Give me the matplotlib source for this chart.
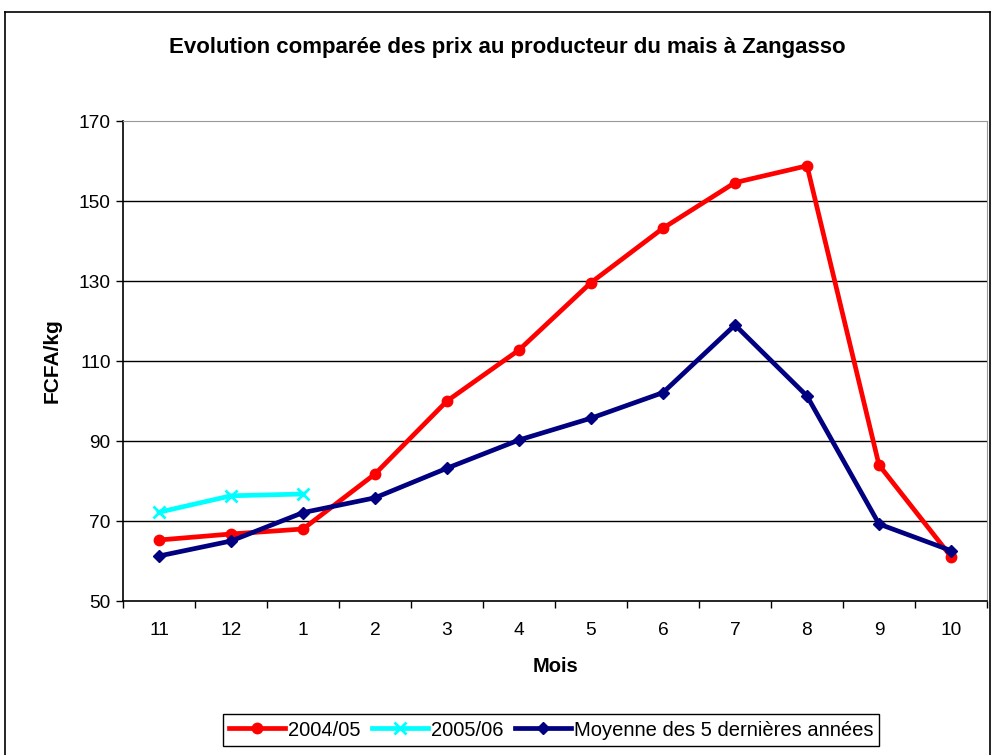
import matplotlib
matplotlib.use("Agg")
import matplotlib.pyplot as plt
from matplotlib.lines import Line2D

plt.rcParams['font.family'] = ['Liberation Sans', 'DejaVu Sans']

# data
mois = ["11", "12", "1", "2", "3", "4", "5", "6", "7", "8", "9", "10"]
prix_2004_05 = [65.25, 66.75, 68, 81.75, 100, 112.75, 129.6, 143.2, 154.6, 158.8, 84, 61.1]
prix_2005_06 = [72.2, 76.3, 76.75]
moyenne_5ans = [61.25, 65, 72.1, 75.8, 83.2, 90.25, 95.7, 102.1, 119, 101.25, 69.25, 62.6]

yticks = [50, 70, 90, 110, 130, 150, 170]

fig = plt.figure(figsize=(9.92, 7.55), dpi=100)
ax = fig.add_axes([123 / 992, 1 - 601 / 755, 864 / 992, 480 / 755])

x = list(range(len(mois)))
ax.plot(x, prix_2004_05, color='#ff0000', lw=3.4, marker='o', ms=7.5,
        label='2004/05', zorder=3)
ax.plot(x[:len(prix_2005_06)], prix_2005_06, color='#00ffff', lw=3.4, marker='x',
        ms=9, mew=2, label='2005/06', zorder=3)
ax.plot(x, moyenne_5ans, color='#000080', lw=3.4, marker='D', ms=6.5,
        label='Moyenne des 5 dernières années', zorder=4)

ax.set_xlim(-0.5, len(mois) - 0.5)
ax.set_ylim(50, 170)
ax.set_yticks(yticks)
ax.set_xticks(x)
ax.set_xticklabels(mois)
ax.set_xticks([i - 0.5 for i in range(len(mois) + 1)], minor=True)
ax.tick_params(axis='x', which='major', length=0, pad=15, labelsize=13.8)
ax.tick_params(axis='x', which='minor', length=5, width=1, direction='out')
ax.tick_params(axis='y', length=5, width=1, direction='out', labelsize=13.8, pad=4)

for v in yticks[1:-1]:
    ax.axhline(v, color='black', lw=1, zorder=1)

ax.spines['top'].set_color('#999999')
ax.spines['right'].set_color('#999999')
ax.spines['left'].set_linewidth(1.2)
ax.spines['bottom'].set_linewidth(1.2)

ax.set_ylabel('FCFA/kg', fontsize=15, fontweight='bold', labelpad=12)
ax.set_xlabel('Mois', fontsize=14.5, fontweight='bold', labelpad=13)

fig.text(507 / 992, 1 - 47 / 755, 'Evolution comparée des prix au producteur du mais à Zangasso',
         ha='center', va='center', fontsize=16, fontweight='bold')

leg = fig.legend(loc='center', bbox_to_anchor=(551 / 992, 1 - 730 / 755), ncol=3,
                 fontsize=14.5, frameon=True, fancybox=False, edgecolor='black',
                 handlelength=2.8, handletextpad=0.15, columnspacing=0.55,
                 borderpad=0.3, framealpha=1)
leg.get_frame().set_linewidth(1)

# outer chart frame
fig.add_artist(Line2D([5 / 992, 5 / 992], [0, 1 - 12 / 755], color='black', lw=1.2,
                      transform=fig.transFigure))
fig.add_artist(Line2D([5 / 992, 990 / 992], [1 - 12 / 755, 1 - 12 / 755], color='black',
                      lw=1.2, transform=fig.transFigure))
fig.add_artist(Line2D([990 / 992, 990 / 992], [0, 1 - 12 / 755], color='black', lw=1.2,
                      transform=fig.transFigure))

fig.savefig('out.png', dpi=100, facecolor='white')
